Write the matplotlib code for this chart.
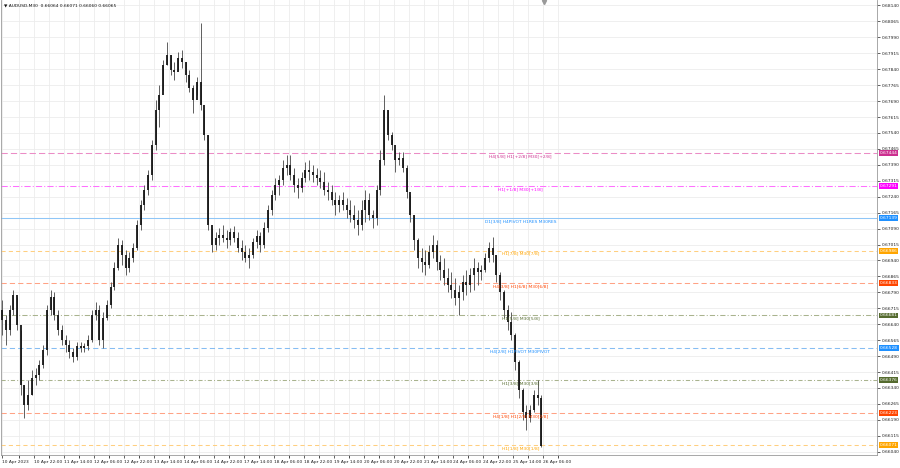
import matplotlib
matplotlib.use("Agg")
import matplotlib.pyplot as plt
import matplotlib.transforms as mtransforms

highs = [0.66754, 0.66683, 0.66730, 0.66801, 0.66768, 0.66613, 0.66354, 0.66378, 0.66425, 0.66434,
         0.66472, 0.66542, 0.66730, 0.66801, 0.66792, 0.66707, 0.66636, 0.66589, 0.66566, 0.66528,
         0.66557, 0.66557, 0.66552, 0.66589, 0.66707, 0.66745, 0.66730, 0.66698, 0.66754, 0.66839,
         0.66933, 0.67045, 0.67036, 0.66989, 0.66980, 0.67022, 0.67130, 0.67224, 0.67294, 0.67365,
         0.67506, 0.67694, 0.67764, 0.67882, 0.67967, 0.67905, 0.67873, 0.67920, 0.67929, 0.67873,
         0.67835, 0.67764, 0.67802, 0.68056, 0.67647, 0.67529, 0.67092, 0.67074, 0.67092, 0.67106,
         0.67083, 0.67092, 0.67102, 0.67074, 0.67036, 0.67012, 0.66998, 0.67045, 0.67083, 0.67074,
         0.67121, 0.67200, 0.67271, 0.67327, 0.67341, 0.67412, 0.67435, 0.67435, 0.67374, 0.67327,
         0.67356, 0.67403, 0.67412, 0.67388, 0.67374, 0.67365, 0.67356, 0.67309, 0.67294, 0.67262,
         0.67247, 0.67262, 0.67233, 0.67224, 0.67200, 0.67177, 0.67224, 0.67271, 0.67257, 0.67177,
         0.67294, 0.67459, 0.67717, 0.67647, 0.67544, 0.67459, 0.67450, 0.67450, 0.67388, 0.67247,
         0.67153, 0.67045, 0.66998, 0.66989, 0.67012, 0.67059, 0.67036, 0.66965, 0.66951, 0.66904,
         0.66886, 0.66857, 0.66824, 0.66871, 0.66895, 0.66904, 0.66951, 0.66933, 0.66918, 0.66975,
         0.67027, 0.67050, 0.66965, 0.66886, 0.66801, 0.66730, 0.66698, 0.66599, 0.66472, 0.66340,
         0.66260, 0.66260, 0.66331, 0.66378, 0.66307]
lows = [0.66589, 0.66542, 0.66589, 0.66683, 0.66613, 0.66307, 0.66199, 0.66237, 0.66307, 0.66354,
        0.66378, 0.66434, 0.66495, 0.66683, 0.66660, 0.66589, 0.66542, 0.66510, 0.66481, 0.66463,
        0.66472, 0.66510, 0.66510, 0.66519, 0.66557, 0.66660, 0.66542, 0.66528, 0.66660, 0.66716,
        0.66801, 0.66895, 0.66918, 0.66871, 0.66886, 0.66933, 0.66989, 0.67083, 0.67177, 0.67247,
        0.67318, 0.67459, 0.67567, 0.67741, 0.67858, 0.67811, 0.67788, 0.67835, 0.67844, 0.67779,
        0.67732, 0.67633, 0.67717, 0.67647, 0.67506, 0.67083, 0.66980, 0.66989, 0.67012, 0.67027,
        0.66998, 0.67012, 0.67027, 0.66980, 0.66942, 0.66933, 0.66904, 0.66951, 0.66998, 0.66980,
        0.66998, 0.67074, 0.67153, 0.67224, 0.67247, 0.67294, 0.67341, 0.67318, 0.67262, 0.67233,
        0.67262, 0.67309, 0.67318, 0.67309, 0.67294, 0.67280, 0.67247, 0.67224, 0.67200, 0.67153,
        0.67168, 0.67177, 0.67139, 0.67121, 0.67092, 0.67059, 0.67083, 0.67121, 0.67130, 0.67092,
        0.67106, 0.67247, 0.67388, 0.67506, 0.67459, 0.67356, 0.67388, 0.67356, 0.67233, 0.67121,
        0.66989, 0.66904, 0.66886, 0.66871, 0.66904, 0.66951, 0.66895, 0.66848, 0.66824, 0.66792,
        0.66763, 0.66730, 0.66683, 0.66754, 0.66777, 0.66792, 0.66801, 0.66824, 0.66848, 0.66886,
        0.66933, 0.66933, 0.66839, 0.66754, 0.66669, 0.66613, 0.66566, 0.66425, 0.66293, 0.66190,
        0.66143, 0.66181, 0.66228, 0.66260, 0.66060]
closes = [0.66660, 0.66613, 0.66707, 0.66777, 0.66636, 0.66354, 0.66260, 0.66307, 0.66387, 0.66401,
          0.66448, 0.66519, 0.66707, 0.66768, 0.66683, 0.66613, 0.66566, 0.66542, 0.66510, 0.66486,
          0.66538, 0.66528, 0.66538, 0.66566, 0.66683, 0.66707, 0.66566, 0.66669, 0.66730, 0.66815,
          0.66904, 0.67012, 0.66965, 0.66904, 0.66951, 0.66998, 0.67106, 0.67200, 0.67271, 0.67341,
          0.67482, 0.67647, 0.67717, 0.67858, 0.67905, 0.67835, 0.67826, 0.67891, 0.67873, 0.67811,
          0.67750, 0.67694, 0.67779, 0.67670, 0.67529, 0.67106, 0.67012, 0.67045, 0.67059, 0.67045,
          0.67036, 0.67074, 0.67045, 0.66998, 0.66980, 0.66951, 0.66965, 0.67027, 0.67055, 0.67012,
          0.67092, 0.67177, 0.67247, 0.67294, 0.67318, 0.67374, 0.67388, 0.67341, 0.67294, 0.67280,
          0.67327, 0.67365, 0.67356, 0.67341, 0.67327, 0.67309, 0.67271, 0.67262, 0.67224, 0.67200,
          0.67224, 0.67200, 0.67177, 0.67153, 0.67130, 0.67106, 0.67177, 0.67224, 0.67153, 0.67139,
          0.67271, 0.67412, 0.67647, 0.67529, 0.67482, 0.67412, 0.67421, 0.67374, 0.67262, 0.67153,
          0.67036, 0.66951, 0.66933, 0.66918, 0.66980, 0.67012, 0.66933, 0.66895, 0.66857, 0.66824,
          0.66801, 0.66763, 0.66792, 0.66839, 0.66824, 0.66871, 0.66904, 0.66886, 0.66895, 0.66951,
          0.66998, 0.66965, 0.66871, 0.66792, 0.66707, 0.66651, 0.66589, 0.66463, 0.66331, 0.66228,
          0.66199, 0.66237, 0.66307, 0.66293, 0.66065]
first_open = 0.66707

time_labels = ["10 Apr 2023", "10 Apr 22:00", "11 Apr 14:00", "12 Apr 06:00", "12 Apr 22:00",
               "13 Apr 14:00", "14 Apr 06:00", "14 Apr 22:00", "17 Apr 14:00", "18 Apr 06:00",
               "18 Apr 22:00", "19 Apr 14:00", "20 Apr 06:00", "20 Apr 22:00", "21 Apr 14:00",
               "24 Apr 06:00", "24 Apr 22:00", "25 Apr 14:00", "26 Apr 06:00"]

# murrey math levels drawn by the indicator
level_prices = [0.67444, 0.67291, 0.67139, 0.66986, 0.66833, 0.66681, 0.66528, 0.66376, 0.66223, 0.66071]
level_names = ["H4[5/8] H1[+2/8] M30[+2/8]", "H1[+1/8] M30[+1/8]", "D1[3/8] H4PIVOT H1RES M30RES",
               "H1[7/8] M30[7/8]", "H4[3/8] H1[6/8] M30[6/8]", "H1[5/8] M30[5/8]",
               "H4[2/8] H1PIVOT M30PIVOT", "H1[3/8] M30[3/8]", "H4[1/8] H1[2/8] M30[2/8]",
               "H1[1/8] M30[1/8]"]
level_colors = ["#cc2f8f", "#ff00ff", "#1e90ff", "#ffa500", "#ff4500",
                "#556b2f", "#1e90ff", "#556b2f", "#ff4500", "#ffa500"]
line_colors = ["#eb8cc6", "#ff70ff", "#8fc6f7", "#ffcf80", "#ffa285",
               "#a9b38e", "#86bdf3", "#a9b38e", "#ffa285", "#ffcf80"]
level_styles = [(0, (6, 3)), (0, (6, 2, 1, 2)), "-", (0, (4, 3)), (0, (5, 3)),
                (0, (5, 2, 1, 2)), (0, (5, 3)), (0, (4, 2, 1, 2)), (0, (5, 3)), (0, (4, 3))]

price_ticks = [round(0.68140 - 0.00075 * k, 5) for k in range(29)]

FS = 3.2

fig = plt.figure(figsize=(9, 4.68), dpi=100)
ax = fig.add_axes([0.001, 0.028, 0.973, 0.971])

n = len(closes)
xs = list(range(n))
opens = [first_open] + closes[:-1]

ax.vlines(xs, lows, highs, color="#5e5e5e", lw=0.7, zorder=3)
ax.vlines(xs, opens, closes, color="#161616", lw=1.3, zorder=4)

for p, name, c, lc, ls in zip(level_prices, level_names, level_colors, line_colors, level_styles):
    ax.axhline(p, color=lc, lw=0.75, ls=ls, zorder=2)
    ax.annotate(name, xy=(138.4, p), xytext=(0, -2.2), textcoords="offset points",
                ha="center", va="center", fontsize=FS, color=c, zorder=5)
    ax.annotate(f"{p:.5f}", xy=(1, p), xycoords=("axes fraction", "data"),
                xytext=(2.2, 0), textcoords="offset points", ha="left", va="center",
                fontsize=FS, color="white", annotation_clip=False,
                bbox=dict(boxstyle="square,pad=0.2", fc=c, ec="none"))

# time axis: one label every 32 M30 bars (8 candles)
tick_pos = [0] + [8.53 + 8 * k for k in range(len(time_labels) - 1)]
ax.set_xticks(tick_pos)
ax.set_xticklabels(time_labels, ha="left", fontsize=FS)
ax.set_xticks([p + 4 for p in tick_pos[1:]] + [4.53], minor=True)
ax.set_xlim(-0.3, 233.5)
ax.set_ylim(0.66025, 0.681635)

ax.yaxis.tick_right()
ax.set_yticks(price_ticks)
ax.set_yticklabels([f"{t:.5f}" for t in price_ticks], fontsize=FS)
ax.tick_params(axis="both", length=2, width=0.5, pad=1.5, colors="#222222")
ax.tick_params(axis="x", which="minor", length=2, width=0.5)

ax.grid(True, which="both", color="#ececec", lw=0.6, zorder=0)
for s in ax.spines.values():
    s.set_color("#9a9a9a")
    s.set_linewidth(0.6)
ax.spines["top"].set_visible(False)

ax.text(0.003, 0.993, "\u25bc AUDUSD,M30  0.66064 0.66071 0.66060 0.66065",
        transform=ax.transAxes, ha="left", va="top", fontsize=FS, color="#111111")

trans = mtransforms.blended_transform_factory(ax.transData, ax.transAxes)
ax.plot([144.6], [0.996], marker="v", ms=3, color="#9a9a9a", transform=trans, clip_on=False)

fig.savefig("out.png", dpi=100)
